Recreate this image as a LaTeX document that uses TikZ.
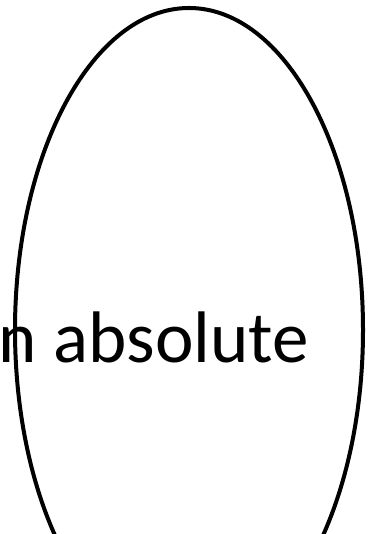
\documentclass[tikz,border=0pt]{standalone}
\usepackage{fontspec}
\setmainfont{Carlito}
\usetikzlibrary{shapes.geometric}
\begin{document}
\begin{tikzpicture}[x=1pt,y=1pt,
  outline/.style={draw=black,line width=4pt},
  label/.style={inner sep=0pt,font=\fontsize{73}{80}\selectfont}]
\useasboundingbox (0,0) rectangle (369,534);
\clip (0,0) rectangle (369,534);
\node[outline,ellipse,minimum width=348pt,minimum height=644pt,inner sep=0pt] (shape) at (189,204) {};
\node[label,anchor=base east] (txt) at (309,171) {n absolute};
\end{tikzpicture}
\end{document}
